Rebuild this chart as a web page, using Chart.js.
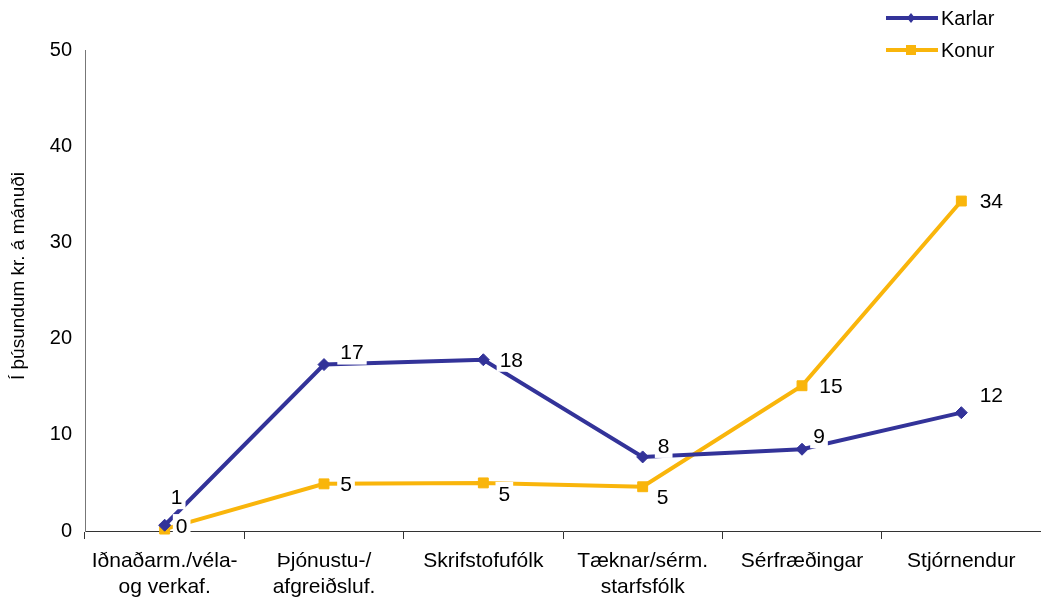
<!DOCTYPE html>
<html lang="is">
<head>
<meta charset="UTF-8" />
<title>Launamunur</title>
<script src="https://cdn.jsdelivr.net/npm/chart.js"></script>
<style>
  body { margin: 0; background: #fff; }
  #graf { display: block; }
</style>
</head>
<body>
<canvas id="graf" width="1041" height="600"></canvas>
<script>
const flokkar = [
  ['Iðnaðarm./véla-', 'og verkaf.'],
  ['Þjónustu-/', 'afgreiðsluf.'],
  'Skrifstofufólk',
  ['Tæknar/sérm.', 'starfsfólk'],
  'Sérfræðingar',
  'Stjórnendur'
];
const karlar = [0.6, 17.3, 17.8, 7.7, 8.5, 12.3];
const konur = [0.2, 4.9, 5.0, 4.6, 15.1, 34.3];
const yTicks = [0, 10, 20, 30, 40, 50];
const yTitill = 'Í þúsundum kr. á mánuði';

// hvar merkin sitja miðað við punktinn (dx, dy)
const merkiKarlar = [[12, -28], [28, -12], [28, 0], [21, -11], [17, -13], [30, -17]];
const merkiKonur = [[17, -3], [22, 0], [21, 11], [20, 10], [29, 0], [30, 0]];
const merki = [merkiKarlar, merkiKonur];

const letur = '"Liberation Sans", Arial, sans-serif';

const gildiMerki = {
  id: 'gildiMerki',
  afterDatasetsDraw(chart) {
    const ctx = chart.ctx;
    ctx.save();
    ctx.font = '21px ' + letur;
    ctx.textAlign = 'center';
    ctx.textBaseline = 'middle';
    chart.data.datasets.forEach((ds, i) => {
      chart.getDatasetMeta(i).data.forEach((pt, j) => {
        const txt = String(Math.round(ds.data[j]));
        const x = pt.x + merki[i][j][0];
        const y = pt.y + merki[i][j][1];
        const w = ctx.measureText(txt).width + 6;
        ctx.fillStyle = '#fff';
        ctx.fillRect(x - w / 2, y - 12, w, 24);
        ctx.fillStyle = '#000';
        ctx.fillText(txt, x, y + 1);
      });
    });
    ctx.restore();
  }
};

const skyring = {
  id: 'skyring',
  afterDraw(chart) {
    const ctx = chart.ctx;
    ctx.save();
    chart.data.datasets.forEach((ds, i) => {
      const y = 18 + i * 32;
      ctx.strokeStyle = ds.borderColor;
      ctx.lineWidth = 4;
      ctx.beginPath();
      ctx.moveTo(886, y);
      ctx.lineTo(938, y);
      ctx.stroke();
      ctx.fillStyle = ds.borderColor;
      if (ds.pointStyle === 'rect') {
        ctx.fillRect(906, y - 5, 10, 10);
      } else {
        ctx.beginPath();
        ctx.moveTo(911, y - 5);
        ctx.lineTo(915, y);
        ctx.lineTo(911, y + 5);
        ctx.lineTo(907, y);
        ctx.closePath();
        ctx.fill();
      }
      ctx.fillStyle = '#000';
      ctx.font = '20px ' + letur;
      ctx.textBaseline = 'middle';
      ctx.fillText(ds.label, 941, y + 1);
    });
    // y-ás titill
    ctx.translate(19, 276);
    ctx.rotate(-Math.PI / 2);
    ctx.textAlign = 'center';
    ctx.textBaseline = 'middle';
    ctx.font = '19px ' + letur;
    ctx.fillText(yTitill, 0, 0);
    ctx.restore();
  }
};

new Chart(document.getElementById('graf'), {
  type: 'line',
  data: {
    labels: flokkar,
    datasets: [{
      label: 'Karlar',
      data: karlar,
      borderColor: '#333399',
      backgroundColor: '#333399',
      borderWidth: 4,
      pointStyle: 'rectRot',
      pointRadius: 6,
      pointHoverRadius: 6,
      pointBorderWidth: 1,
      tension: 0,
      clip: false
    }, {
      label: 'Konur',
      data: konur,
      borderColor: '#F9B50B',
      backgroundColor: '#F9B50B',
      borderWidth: 4,
      pointStyle: 'rect',
      pointRadius: 7,
      pointHoverRadius: 7,
      pointBorderWidth: 1,
      tension: 0,
      clip: false
    }]
  },
  options: {
    responsive: false,
    animation: false,
    layout: { autoPadding: false, padding: { top: 50, right: 0, left: 0, bottom: 0 } },
    plugins: {
      legend: { display: false },
      tooltip: { enabled: false }
    },
    scales: {
      x: {
        offset: true,
        grid: { offset: true, drawOnChartArea: false, tickLength: 8, color: '#333' },
        border: { color: '#333', width: 1 },
        ticks: {
          color: '#000',
          font: { family: letur, size: 21, lineHeight: 1.24 },
          maxRotation: 0,
          autoSkip: false,
          padding: 9
        },
        afterFit(s) {
          s.height = 69;
          s.paddingLeft = 0;
          s.paddingRight = 0;
        }
      },
      y: {
        min: 0,
        max: 50,
        afterBuildTicks(s) { s.ticks = yTicks.map(v => ({ value: v })); },
        grid: { drawOnChartArea: false, drawTicks: false },
        border: { color: '#777', width: 1 },
        ticks: {
          color: '#000',
          padding: 13,
          font: { family: letur, size: 20 }
        },
        afterFit(s) { s.width = 85; }
      }
    }
  },
  plugins: [gildiMerki, skyring]
});
</script>
</body>
</html>
